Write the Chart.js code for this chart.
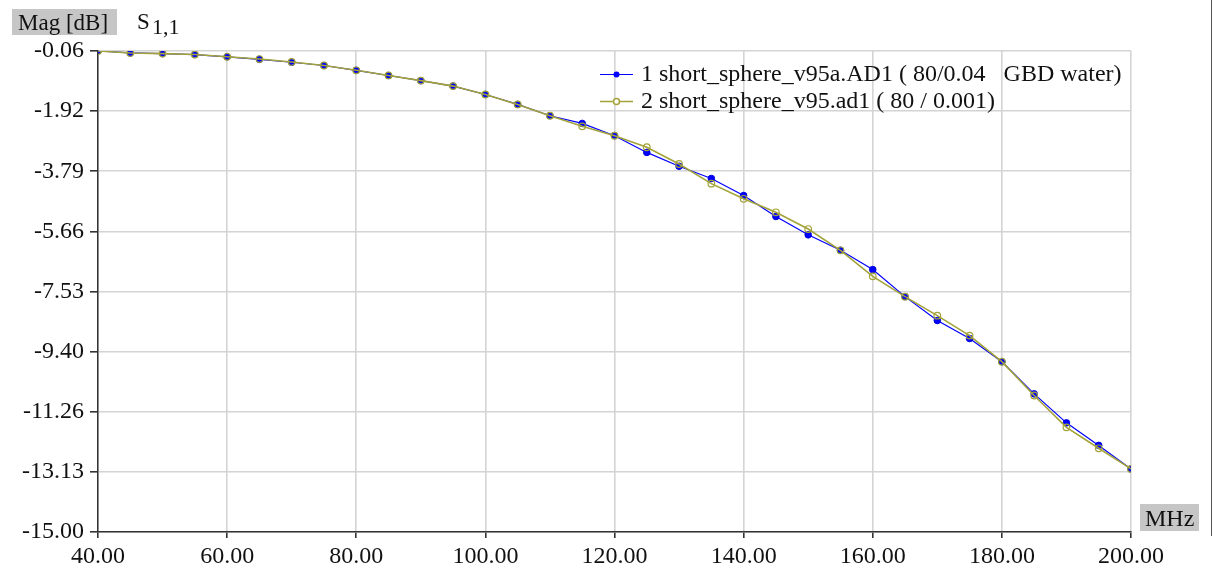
<!DOCTYPE html>
<html>
<head>
<meta charset="utf-8">
<script src="https://cdn.jsdelivr.net/npm/chart.js@4/dist/chart.umd.min.js"></script>
<style>
  html, body { margin: 0; padding: 0; background: #ffffff; }
  #wrap { position: relative; width: 1218px; height: 574px; }
  canvas { display: block; }
</style>
</head>
<body>
<div id="wrap"><canvas id="c" width="1218" height="574"></canvas></div>
<script>
// ---- data ----
const freqMHz = [40, 45, 50, 55, 60, 65, 70, 75, 80, 85, 90, 95, 100, 105, 110, 115, 120,
                 125, 130, 135, 140, 145, 150, 155, 160, 165, 170, 175, 180, 185, 190, 195, 200];
const magGbdWater = [-0.06, -0.12, -0.14, -0.17, -0.24, -0.32, -0.41, -0.51, -0.66, -0.82, -0.98, -1.15, -1.41,
                     -1.72, -2.07, -2.31, -2.69, -3.21, -3.64, -4.02, -4.55, -5.20, -5.77, -6.25, -6.85,
                     -7.69, -8.43, -8.99, -9.71, -10.71, -11.61, -12.31, -13.04];
const magV95 = [-0.06, -0.12, -0.14, -0.17, -0.24, -0.31, -0.40, -0.51, -0.66, -0.82, -0.98, -1.15, -1.41,
                -1.72, -2.07, -2.40, -2.69, -3.05, -3.57, -4.18, -4.65, -5.07, -5.59, -6.25, -7.06,
                -7.69, -8.28, -8.90, -9.71, -10.76, -11.75, -12.40, -13.04];
const yTickLabels = ['-0.06', '-1.92', '-3.79', '-5.66', '-7.53', '-9.40', '-11.26', '-13.13', '-15.00'];
const xTickLabels = ['40.00', '60.00', '80.00', '100.00', '120.00', '140.00', '160.00', '180.00', '200.00'];
const legendLabels = ['1 short_sphere_v95a.AD1 ( 80/0.04   GBD water)', '2 short_sphere_v95.ad1 ( 80 / 0.001)'];
const yAxisTitle = 'Mag [dB]';
const xAxisTitle = 'MHz';
const paramName = 'S';
const paramSub = '1,1';

const Y_MAX = parseFloat(yTickLabels[0]);
const Y_MIN = parseFloat(yTickLabels[yTickLabels.length - 1]);
const X_MIN = parseFloat(xTickLabels[0]);
const X_MAX = parseFloat(xTickLabels[xTickLabels.length - 1]);

const BLUE = '#0000ff';
const OLIVE = '#a3a33a';
const FONT = '"Liberation Serif", "Times New Roman", serif';

const decor = {
  id: 'decor',
  afterDraw(chart) {
    const ctx = chart.ctx;
    ctx.save();
    // right frame line
    ctx.strokeStyle = '#555555';
    ctx.lineWidth = 1;
    ctx.beginPath(); ctx.moveTo(1211.5, 0); ctx.lineTo(1211.5, 536); ctx.stroke();

    // y title box
    ctx.fillStyle = '#c6c6c6';
    ctx.fillRect(12, 9, 105, 26);
    ctx.fillStyle = '#111';
    ctx.font = '23px ' + FONT;
    ctx.textBaseline = 'alphabetic';
    ctx.textAlign = 'left';
    ctx.fillText(yAxisTitle, 18, 30);
    // parameter name with subscript
    ctx.font = '23px ' + FONT;
    ctx.fillText(paramName, 137, 29);
    ctx.font = '22px ' + FONT;
    ctx.fillText(paramSub, 152, 34);

    // x title box
    ctx.fillStyle = '#c6c6c6';
    ctx.fillRect(1140, 504, 59, 27);
    ctx.fillStyle = '#111';
    ctx.font = '24px ' + FONT;
    ctx.fillText(xAxisTitle, 1145, 526);

    // legend
    const entries = [
      { y: 74, color: BLUE, fill: true, text: legendLabels[0], lw: 1.2 },
      { y: 101, color: OLIVE, fill: false, text: legendLabels[1], lw: 1.5 }
    ];
    entries.forEach(e => {
      ctx.strokeStyle = e.color;
      ctx.lineWidth = e.lw;
      ctx.beginPath(); ctx.moveTo(600, e.y + 0.5); ctx.lineTo(633, e.y + 0.5); ctx.stroke();
      ctx.beginPath(); ctx.arc(616.5, e.y + 0.5, 3, 0, Math.PI * 2);
      if (e.fill) { ctx.fillStyle = e.color; ctx.fill(); }
      else { ctx.fillStyle = '#ffffff'; ctx.fill(); ctx.stroke(); }
      ctx.fillStyle = '#111';
      ctx.font = '24px ' + FONT;
      ctx.textBaseline = 'middle';
      ctx.fillText(e.text, 641, e.y + 1);
    });
    ctx.restore();
  }
};

new Chart(document.getElementById('c'), {
  type: 'line',
  data: {
    datasets: [
      {
        label: legendLabels[0],
        data: freqMHz.map((f, i) => ({ x: f, y: magGbdWater[i] })),
        borderColor: BLUE,
        backgroundColor: BLUE,
        borderWidth: 1.2,
        pointRadius: 3.3,
        pointBorderWidth: 1,
        pointBorderColor: '#0000dd',
        pointBackgroundColor: BLUE,
        tension: 0,
        order: 1
      },
      {
        label: legendLabels[1],
        data: freqMHz.map((f, i) => ({ x: f, y: magV95[i] })),
        borderColor: OLIVE,
        backgroundColor: 'rgba(0,0,0,0)',
        borderWidth: 1.6,
        pointRadius: 3.3,
        pointBorderWidth: 1.2,
        pointBorderColor: OLIVE,
        pointBackgroundColor: 'rgba(0,0,0,0)',
        tension: 0,
        order: 0
      }
    ]
  },
  options: {
    responsive: false,
    animation: false,
    devicePixelRatio: 1,
    layout: { padding: { top: 51, right: 87, bottom: 0, left: 0 } },
    plugins: { legend: { display: false }, tooltip: { enabled: false } },
    scales: {
      x: {
        type: 'linear',
        min: X_MIN, max: X_MAX,
        afterFit(s) { s.height = 42; },
        afterBuildTicks(s) {
          s.ticks = xTickLabels.map(l => ({ value: parseFloat(l) }));
        },
        ticks: {
          autoSkip: false,
          maxRotation: 0,
          padding: 4,
          color: '#111',
          font: { family: FONT, size: 24 },
          callback: (v, i) => xTickLabels[i]
        },
        grid: { color: '#d4d4d4', lineWidth: 1.6, tickLength: 6, tickColor: '#333', drawTicks: true },
        border: { color: '#333', width: 1.5 }
      },
      y: {
        type: 'linear',
        min: Y_MIN, max: Y_MAX,
        afterFit(s) { s.width = 98; },
        afterBuildTicks(s) {
          const n = yTickLabels.length;
          s.ticks = yTickLabels.map((l, i) => ({ value: Y_MAX - i * (Y_MAX - Y_MIN) / (n - 1) }));
        },
        ticks: {
          autoSkip: false,
          padding: 6,
          color: '#111',
          font: { family: FONT, size: 24 },
          callback: (v, i) => yTickLabels[i]
        },
        grid: { color: '#d4d4d4', lineWidth: 1.6, tickLength: 8, tickColor: '#333', drawTicks: true },
        border: { color: '#333', width: 1.5 }
      }
    }
  },
  plugins: [decor]
});
</script>
</body>
</html>
